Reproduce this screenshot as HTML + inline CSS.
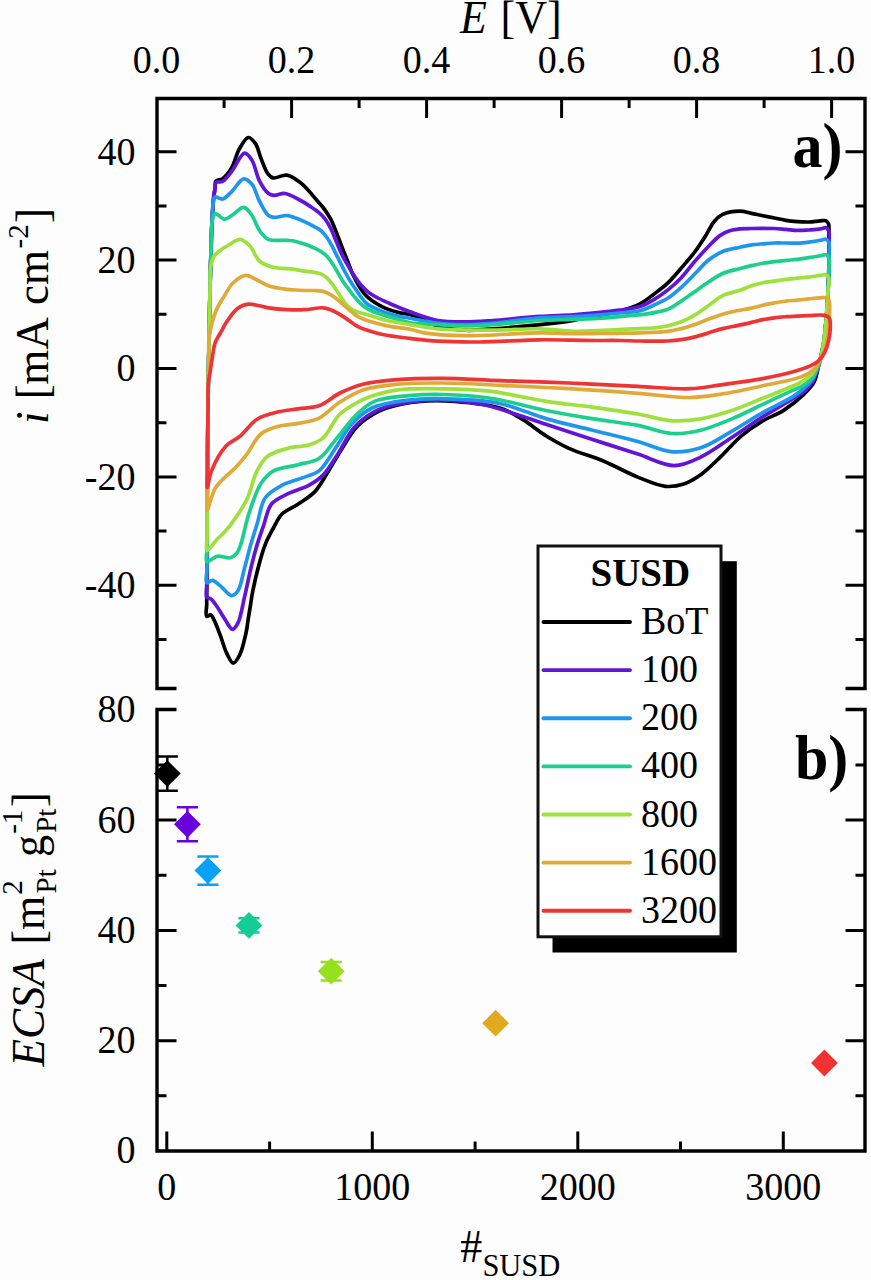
<!DOCTYPE html><html><head><meta charset="utf-8"><style>
html,body{margin:0;padding:0;background:#fdfdfd;overflow:hidden;}
svg{display:block;}
text{font-family:"Liberation Serif",serif;}
</style></head><body>
<svg width="871" height="1280" viewBox="0 0 871 1280">
<rect width="871" height="1280" fill="#fdfdfd"/>
<path d="M206.6,616.4 C205.2,615.4 206.7,608.4 206.7,604.4 C206.7,600.4 206.7,596.4 206.8,592.4 C206.8,588.4 206.8,584.4 206.8,580.4 C206.8,576.4 206.9,572.4 206.9,568.4 C206.9,564.4 206.9,560.4 206.9,556.4 C207.0,552.4 207.0,548.4 207.0,544.4 C207.0,540.4 207.0,536.4 207.0,532.4 C207.1,528.4 207.1,524.4 207.1,520.4 C207.1,516.4 207.1,512.4 207.2,508.4 C207.2,504.4 207.2,500.4 207.2,496.4 C207.2,492.4 207.3,488.4 207.3,484.4 C207.3,480.4 207.3,476.4 207.4,472.4 C207.4,468.4 207.5,464.4 207.5,460.4 C207.5,456.4 207.6,452.4 207.6,448.4 C207.7,444.4 207.7,440.4 207.7,436.4 C207.8,432.4 207.8,428.4 207.9,424.4 C207.9,420.4 207.9,416.4 208.0,412.4 C208.0,408.4 208.1,404.4 208.1,400.4 C208.1,396.4 208.2,392.4 208.2,388.4 C208.3,384.4 208.3,380.4 208.4,376.4 C208.4,372.4 208.5,368.4 208.6,364.4 C208.7,360.4 208.7,356.4 208.8,352.4 C208.9,348.4 209.0,344.4 209.1,340.4 C209.1,336.4 209.2,332.4 209.3,328.4 C209.4,324.4 209.4,320.4 209.5,316.4 C209.6,312.4 209.7,308.4 209.7,304.4 C209.8,300.4 209.9,296.4 210.0,292.4 C210.0,288.4 210.1,284.4 210.2,280.4 C210.3,276.4 210.4,272.4 210.5,268.4 C210.6,264.4 210.7,260.4 210.9,256.4 C211.0,252.4 211.1,248.4 211.2,244.4 C211.3,240.4 211.4,236.4 211.5,232.4 C211.7,228.4 211.9,224.4 212.1,220.4 C212.4,216.4 212.5,212.4 212.8,208.4 C213.1,204.4 213.4,200.0 213.8,196.4 C214.2,193.3 214.7,190.7 215.1,188.0 C215.4,185.6 214.7,182.5 216.0,181.0 C217.3,179.5 220.4,180.3 222.6,178.8 C225.7,176.7 229.1,172.2 231.7,167.8 C234.8,162.6 236.1,154.7 239.1,149.4 C241.7,144.8 245.3,137.8 248.3,137.5 C250.7,137.3 253.6,141.0 255.6,143.9 C258.1,147.6 259.1,153.7 261.1,158.6 C263.1,163.5 265.1,170.0 267.6,173.3 C269.3,175.5 270.7,177.3 273.1,177.9 C276.5,178.8 282.4,174.4 286.8,175.1 C291.4,175.8 296.3,179.6 300.0,182.3 C303.2,184.6 305.4,187.2 308.0,190.0 C310.9,193.1 313.9,196.9 316.6,200.0 C318.9,202.7 320.9,204.7 323.1,207.5 C325.6,210.8 328.4,214.8 330.6,218.8 C332.8,222.9 334.4,227.4 336.2,231.9 C338.1,236.7 340.0,242.0 341.9,246.9 C343.8,251.7 345.6,256.2 347.5,260.9 C349.4,265.6 350.7,270.1 353.1,275.0 C356.0,280.8 360.1,288.7 364.0,293.4 C366.9,297.0 369.8,299.2 373.2,301.6 C376.8,304.1 380.9,306.3 385.1,308.1 C389.4,310.0 394.5,311.5 398.9,312.6 C402.8,313.6 405.6,313.2 410.0,314.5 C417.3,316.6 428.4,323.4 437.8,326.0 C446.8,328.5 456.1,329.7 465.3,330.2 C474.5,330.7 482.5,329.5 492.9,328.8 C506.5,327.9 525.6,326.3 540.0,324.7 C552.1,323.4 563.2,322.0 573.5,320.3 C582.3,318.9 590.1,317.2 598.0,315.6 C605.4,314.1 612.4,313.2 619.4,311.2 C626.4,309.2 634.0,306.9 640.0,303.8 C645.3,301.1 649.3,297.6 653.8,294.2 C658.5,290.7 663.2,287.4 667.6,283.2 C672.4,278.7 676.8,273.2 681.3,268.0 C685.9,262.7 690.9,257.1 695.1,251.5 C699.1,246.1 702.7,240.3 706.1,235.0 C709.1,230.2 711.3,224.8 714.4,221.2 C716.9,218.2 719.2,216.0 722.7,214.3 C727.2,212.2 734.8,211.1 740.0,211.1 C744.2,211.1 747.7,212.6 751.5,213.4 C755.3,214.2 759.2,214.9 763.0,215.7 C766.8,216.5 770.6,217.2 774.4,218.0 C778.2,218.8 782.1,219.7 785.9,220.3 C789.7,220.9 793.6,221.3 797.4,221.6 C801.2,221.9 805.1,222.1 808.9,222.0 C812.7,221.9 817.2,221.0 820.4,220.8 C822.6,220.7 824.7,220.1 826.1,220.8 C827.3,221.4 828.1,222.5 828.6,224.0 C829.5,226.6 828.7,232.0 828.8,236.0 C828.9,240.0 829.0,243.8 829.0,248.0 C829.0,252.5 829.0,257.3 829.0,262.0 C829.0,266.7 828.8,271.3 828.7,276.0 C828.5,280.7 828.3,285.3 828.1,290.0 C827.9,294.7 827.6,299.3 827.3,304.0 C827.0,308.7 826.7,313.3 826.3,318.0 C825.9,322.7 825.5,327.3 825.0,332.0 C824.5,336.7 823.9,341.3 823.1,346.0 C822.3,350.7 821.0,356.3 820.1,360.0 C819.5,362.4 819.2,363.5 818.5,366.0 C817.4,370.0 816.7,377.0 814.3,381.7 C811.9,386.4 808.3,389.9 804.0,394.1 C798.5,399.5 790.4,406.0 783.3,410.6 C776.6,414.9 769.4,416.9 762.7,420.9 C755.7,425.1 748.7,429.8 742.0,435.4 C734.8,441.4 728.3,449.5 721.3,456.1 C714.5,462.6 707.5,469.9 700.7,474.7 C695.0,478.7 689.7,482.1 683.7,484.0 C677.9,485.9 672.0,487.0 665.3,486.3 C657.0,485.5 647.4,480.9 637.8,477.1 C626.8,472.7 614.9,465.8 603.3,461.0 C591.9,456.3 579.1,453.0 568.9,448.4 C560.3,444.5 553.4,440.5 545.9,435.8 C538.1,431.0 530.7,424.4 523.0,419.7 C515.7,415.3 509.7,411.2 500.7,408.3 C488.4,404.3 469.0,402.5 454.8,401.4 C442.5,400.5 431.8,400.3 420.4,401.4 C408.9,402.5 394.7,405.4 385.9,408.3 C380.1,410.3 376.6,412.1 372.0,415.0 C366.7,418.3 361.1,422.1 356.2,427.5 C350.2,434.0 344.7,444.3 339.7,452.3 C335.2,459.5 331.5,466.3 327.3,473.0 C323.2,479.4 319.9,486.4 314.9,491.6 C310.1,496.6 303.9,500.2 298.3,504.0 C292.9,507.7 286.0,510.0 281.8,514.3 C278.0,518.2 276.1,523.2 273.4,528.0 C270.6,533.1 267.7,538.3 265.4,544.1 C262.8,550.5 260.9,557.5 258.9,565.0 C256.6,573.5 254.0,584.8 252.5,592.3 C251.5,597.5 251.1,601.2 250.4,605.7 C249.7,610.2 248.9,614.6 248.2,619.1 C247.5,623.6 247.2,627.5 246.1,632.5 C244.6,639.1 242.5,649.6 239.7,655.0 C237.8,658.6 235.3,663.2 233.2,663.1 C231.0,663.0 228.7,657.3 226.8,653.4 C224.3,648.5 222.6,641.4 220.4,635.7 C218.3,630.2 215.9,623.4 213.9,619.7 C212.8,617.5 212.0,615.2 210.7,614.8 C209.5,614.4 207.5,617.0 206.6,616.4Z" fill="none" stroke="#000000" stroke-width="3.7" stroke-linejoin="round" stroke-linecap="round"/>
<path d="M206.7,597.2 C205.4,595.1 206.8,589.2 206.8,585.2 C206.8,581.2 206.8,577.2 206.9,573.2 C206.9,569.2 206.9,565.2 206.9,561.2 C206.9,557.2 206.9,553.2 207.0,549.2 C207.0,545.2 207.0,541.2 207.0,537.2 C207.0,533.2 207.1,529.2 207.1,525.2 C207.1,521.2 207.1,517.2 207.1,513.2 C207.2,509.2 207.2,505.2 207.2,501.2 C207.2,497.2 207.2,493.2 207.3,489.2 C207.3,485.2 207.3,481.2 207.3,477.2 C207.4,473.2 207.4,469.2 207.4,465.2 C207.5,461.2 207.5,457.2 207.6,453.2 C207.6,449.2 207.6,445.2 207.7,441.2 C207.7,437.2 207.8,433.2 207.8,429.2 C207.8,425.2 207.9,421.2 207.9,417.2 C208.0,413.2 208.0,409.2 208.0,405.2 C208.1,401.2 208.1,397.2 208.2,393.2 C208.2,389.2 208.2,385.2 208.3,381.2 C208.3,377.2 208.4,373.2 208.5,369.2 C208.6,365.2 208.7,361.2 208.7,357.2 C208.8,353.2 208.9,349.2 209.0,345.2 C209.0,341.2 209.1,337.2 209.2,333.2 C209.3,329.2 209.3,325.2 209.4,321.2 C209.5,317.2 209.6,313.2 209.6,309.2 C209.7,305.2 209.8,301.2 209.9,297.2 C209.9,293.2 210.0,289.2 210.1,285.2 C210.2,281.2 210.3,277.2 210.4,273.2 C210.5,269.2 210.6,265.2 210.7,261.2 C210.8,257.2 211.0,253.2 211.1,249.2 C211.2,245.2 211.3,241.2 211.4,237.2 C211.5,233.2 211.7,229.2 211.9,225.2 C212.1,221.2 212.3,217.2 212.6,213.2 C212.8,209.2 212.8,205.1 213.2,201.2 C213.6,197.4 214.3,193.4 214.8,190.0 C215.2,187.2 214.7,183.9 216.1,182.5 C217.4,181.2 220.5,182.7 222.6,181.5 C225.7,179.8 228.5,175.4 231.7,171.4 C235.8,166.3 240.7,153.4 244.6,153.1 C247.3,152.9 249.9,157.0 252.0,160.4 C255.1,165.2 256.3,174.8 259.3,180.6 C261.9,185.6 265.5,191.3 268.5,193.5 C270.3,194.9 271.8,195.1 274.0,195.3 C277.0,195.5 281.1,193.0 285.0,193.5 C289.6,194.1 295.4,197.8 299.7,200.0 C303.2,201.8 306.0,203.6 309.1,205.6 C312.2,207.7 315.7,209.9 318.4,212.2 C320.9,214.3 323.0,216.3 325.0,218.8 C327.1,221.5 328.8,224.7 330.6,228.1 C332.6,232.0 334.3,236.8 336.2,241.2 C338.1,245.6 339.9,250.3 341.9,254.4 C343.7,258.1 345.6,261.4 347.5,264.7 C349.3,267.9 351.0,271.0 353.1,274.1 C355.3,277.5 357.7,281.1 360.3,284.2 C362.9,287.2 365.6,290.1 368.6,292.4 C371.5,294.6 374.5,296.2 377.8,298.0 C381.5,300.0 385.2,301.5 389.7,303.5 C395.5,306.0 402.6,309.1 410.0,311.7 C418.5,314.8 428.4,318.8 437.8,320.5 C446.9,322.1 456.1,321.9 465.3,321.9 C474.5,321.9 482.5,321.2 492.9,320.5 C506.5,319.6 525.6,317.4 540.0,316.4 C552.1,315.6 563.2,315.5 573.5,314.8 C582.3,314.2 590.1,313.4 598.0,312.6 C605.4,311.9 612.3,311.2 619.4,310.2 C626.3,309.2 633.9,308.6 640.0,306.6 C645.2,304.9 649.3,302.4 653.8,299.7 C658.5,296.9 663.1,293.7 667.6,290.1 C672.3,286.4 676.9,282.3 681.3,277.7 C686.1,272.7 690.4,266.4 695.1,261.1 C699.6,255.9 704.5,250.5 708.9,246.0 C712.7,242.1 716.1,238.2 719.9,235.6 C723.1,233.4 726.2,231.9 729.6,230.8 C732.9,229.7 736.4,229.3 740.0,228.9 C743.7,228.5 747.7,228.6 751.5,228.5 C755.3,228.4 759.2,228.3 763.0,228.3 C766.8,228.3 770.6,228.3 774.4,228.5 C778.2,228.7 782.1,229.1 785.9,229.4 C789.7,229.7 793.6,230.3 797.4,230.4 C801.2,230.5 805.1,230.2 808.9,230.0 C812.7,229.7 817.2,229.4 820.4,228.9 C822.6,228.6 824.7,227.2 826.1,227.7 C827.3,228.1 828.2,229.4 828.8,231.0 C829.9,233.9 829.0,240.3 829.0,245.0 C829.0,249.7 829.0,254.3 829.0,259.0 C829.0,263.7 828.8,268.3 828.7,273.0 C828.6,277.7 828.4,282.3 828.2,287.0 C828.0,291.7 827.8,296.3 827.5,301.0 C827.2,305.7 827.0,310.3 826.6,315.0 C826.2,319.7 825.8,324.3 825.3,329.0 C824.8,333.7 824.4,338.3 823.7,343.0 C823.0,347.7 821.9,353.2 821.0,357.0 C820.3,359.8 819.9,361.2 819.0,364.0 C817.6,368.4 815.8,376.2 813.0,381.0 C810.6,385.2 807.3,388.6 804.0,391.5 C800.9,394.3 798.1,395.5 793.7,398.2 C786.2,402.9 773.0,410.3 762.7,416.8 C752.3,423.4 742.1,430.8 731.7,437.5 C721.4,444.2 710.9,452.3 700.7,457.1 C691.9,461.2 684.0,465.6 674.5,465.6 C663.3,465.7 650.7,458.2 637.8,454.1 C623.3,449.5 607.1,444.2 591.8,439.2 C576.5,434.2 560.0,429.0 545.9,424.3 C533.8,420.3 523.4,416.3 512.2,412.9 C501.4,409.6 491.2,406.1 480.0,404.0 C468.2,401.7 453.9,400.3 443.0,400.0 C434.4,399.7 428.4,400.1 420.0,401.0 C409.7,402.1 394.6,404.4 385.9,407.0 C380.1,408.7 376.7,410.1 372.0,413.0 C366.2,416.5 359.5,421.4 354.1,427.5 C347.8,434.7 343.0,446.1 337.6,454.4 C332.7,461.8 328.4,469.7 323.1,475.1 C318.6,479.6 314.1,482.4 308.7,485.4 C302.6,488.7 294.4,490.5 288.0,493.7 C282.0,496.7 275.5,499.1 271.5,504.0 C267.2,509.2 266.2,518.0 263.8,524.8 C261.5,531.3 259.4,537.3 257.3,544.1 C255.0,551.7 252.9,559.8 250.9,568.2 C248.7,577.4 246.7,587.8 244.5,597.2 C242.4,606.0 240.9,617.4 238.0,622.9 C236.4,626.0 234.3,629.4 232.4,629.3 C230.1,629.2 227.6,623.2 225.2,619.7 C222.5,615.8 219.7,610.5 217.1,606.8 C214.9,603.7 212.8,600.3 210.7,598.8 C209.4,597.8 207.6,598.4 206.7,597.2Z" fill="none" stroke="#6414d8" stroke-width="3.7" stroke-linejoin="round" stroke-linecap="round"/>
<path d="M206.8,582.7 C205.3,581.7 206.8,574.7 206.9,570.7 C206.9,566.7 206.9,562.7 206.9,558.7 C206.9,554.7 207.0,550.7 207.0,546.7 C207.0,542.7 207.0,538.7 207.0,534.7 C207.1,530.7 207.1,526.7 207.1,522.7 C207.1,518.7 207.1,514.7 207.2,510.7 C207.2,506.7 207.2,502.7 207.2,498.7 C207.2,494.7 207.2,490.7 207.3,486.7 C207.3,482.7 207.3,478.7 207.4,474.7 C207.4,470.7 207.4,466.7 207.5,462.7 C207.5,458.7 207.6,454.7 207.6,450.7 C207.6,446.7 207.7,442.7 207.7,438.7 C207.8,434.7 207.8,430.7 207.8,426.7 C207.9,422.7 207.9,418.7 208.0,414.7 C208.0,410.7 208.0,406.7 208.1,402.7 C208.1,398.7 208.2,394.7 208.2,390.7 C208.2,386.7 208.3,382.7 208.3,378.7 C208.4,374.7 208.5,370.7 208.6,366.7 C208.6,362.7 208.7,358.7 208.8,354.7 C208.9,350.7 208.9,346.7 209.0,342.7 C209.1,338.7 209.2,334.7 209.2,330.7 C209.3,326.7 209.4,322.7 209.5,318.7 C209.5,314.7 209.6,310.7 209.7,306.7 C209.8,302.7 209.8,298.7 209.9,294.7 C210.0,290.7 210.1,286.7 210.1,282.7 C210.2,278.7 210.4,274.7 210.5,270.7 C210.6,266.7 210.7,262.7 210.8,258.7 C210.9,254.7 211.0,250.7 211.1,246.7 C211.2,242.7 211.3,238.7 211.5,234.7 C211.6,230.7 211.8,227.1 212.0,222.7 C212.3,217.4 212.3,209.7 213.0,205.0 C213.5,201.8 213.3,198.0 214.9,197.0 C216.5,196.0 220.1,199.6 222.6,199.0 C225.7,198.3 228.6,194.5 231.7,191.6 C235.5,188.0 239.9,179.2 243.7,178.8 C246.6,178.5 249.6,181.5 252.0,184.3 C255.2,188.1 256.5,195.6 259.3,200.8 C262.0,205.9 265.4,213.0 268.5,215.5 C270.3,216.9 271.8,217.2 274.0,217.4 C277.3,217.7 283.0,215.3 286.8,215.5 C289.9,215.7 292.2,216.8 295.0,217.8 C298.1,218.8 301.3,220.2 304.4,221.6 C307.5,223.0 310.8,224.7 313.7,226.3 C316.4,227.8 319.0,229.0 321.2,230.9 C323.4,232.8 325.1,235.0 326.9,237.5 C328.9,240.3 330.7,243.6 332.5,246.9 C334.4,250.4 336.2,254.4 338.1,258.1 C340.0,261.9 341.8,265.7 343.7,269.4 C345.6,272.9 347.4,276.5 349.4,279.7 C351.2,282.7 352.7,284.9 355.0,288.1 C358.1,292.5 362.3,299.8 366.7,303.5 C370.4,306.6 374.4,308.0 378.7,309.9 C383.5,312.0 389.0,314.0 394.3,315.4 C399.5,316.8 404.0,317.1 410.0,318.2 C418.0,319.6 428.5,322.2 437.8,323.3 C447.0,324.4 456.1,324.7 465.3,324.7 C474.5,324.7 482.5,324.2 492.9,323.3 C506.5,322.2 525.6,318.9 540.0,317.8 C552.1,316.9 563.2,317.1 573.5,316.6 C582.3,316.2 590.1,315.6 598.0,315.0 C605.4,314.4 612.3,313.7 619.4,313.0 C626.3,312.3 633.9,312.2 640.0,310.7 C645.2,309.4 649.2,307.2 653.8,305.2 C658.4,303.1 663.2,301.1 667.6,298.3 C672.3,295.3 676.8,291.3 681.3,287.3 C686.0,283.1 690.5,278.1 695.1,273.5 C699.7,268.9 704.1,263.6 708.9,259.8 C713.3,256.4 717.7,253.6 722.7,251.5 C728.0,249.3 734.8,248.4 740.0,247.2 C744.2,246.3 747.7,245.5 751.5,244.9 C755.3,244.3 759.2,244.1 763.0,243.8 C766.8,243.5 770.6,243.1 774.4,243.0 C778.2,242.9 782.1,243.0 785.9,243.0 C789.7,243.0 793.6,243.3 797.4,243.2 C801.2,243.1 805.1,242.6 808.9,242.1 C812.7,241.6 817.2,240.9 820.4,240.3 C822.6,239.9 824.6,238.7 826.1,239.2 C827.4,239.6 828.3,240.9 828.9,242.5 C830.0,245.4 829.0,251.5 829.0,256.0 C829.0,260.6 828.9,265.3 828.8,270.0 C828.7,274.7 828.6,279.3 828.4,284.0 C828.2,288.7 828.0,293.3 827.7,298.0 C827.4,302.7 827.1,307.3 826.8,312.0 C826.4,316.7 826.0,321.3 825.6,326.0 C825.2,330.7 824.8,335.3 824.2,340.0 C823.5,344.7 822.6,350.0 821.7,354.0 C821.0,357.1 820.7,358.9 819.6,362.0 C818.0,366.8 815.4,374.8 812.3,379.5 C809.7,383.4 806.2,386.2 803.0,389.0 C800.0,391.7 797.8,393.4 793.7,396.1 C786.5,400.7 773.0,406.9 762.7,412.7 C752.3,418.6 742.1,425.4 731.7,431.3 C721.4,437.1 711.1,444.4 700.7,447.8 C691.3,450.9 682.1,452.5 672.2,451.8 C661.2,451.0 650.1,444.9 637.8,441.5 C623.6,437.6 607.1,433.8 591.8,430.0 C576.5,426.2 561.1,423.0 545.9,418.6 C530.7,414.2 516.0,406.9 500.7,403.7 C485.6,400.5 469.0,399.8 454.8,399.1 C442.5,398.5 431.8,398.3 420.4,399.1 C408.9,399.9 394.8,401.8 385.9,403.7 C380.2,405.0 376.8,405.5 372.0,408.0 C365.7,411.3 358.0,417.1 352.1,423.4 C345.7,430.3 341.1,440.2 335.5,448.2 C330.1,456.0 325.0,466.1 319.0,470.9 C314.5,474.5 309.9,475.0 304.5,477.1 C297.8,479.8 288.5,481.7 281.8,485.4 C275.6,488.8 269.3,492.1 265.3,497.8 C260.7,504.3 259.8,515.1 257.3,523.2 C255.0,530.5 253.0,536.9 250.9,544.1 C248.7,551.8 246.7,560.3 244.5,568.2 C242.4,575.8 241.1,586.2 238.0,590.7 C236.2,593.4 234.0,595.7 231.6,595.6 C228.4,595.5 223.9,588.6 220.4,585.9 C217.5,583.7 214.8,580.5 212.3,580.3 C210.3,580.1 207.9,583.4 206.8,582.7Z" fill="none" stroke="#1e96ee" stroke-width="3.7" stroke-linejoin="round" stroke-linecap="round"/>
<path d="M206.9,561.8 C205.2,560.8 206.9,553.8 207.0,549.8 C207.0,545.8 207.0,541.8 207.0,537.8 C207.0,533.8 207.1,529.8 207.1,525.8 C207.1,521.8 207.1,517.8 207.1,513.8 C207.2,509.8 207.2,505.8 207.2,501.8 C207.2,497.8 207.2,493.8 207.3,489.8 C207.3,485.8 207.3,481.8 207.3,477.8 C207.4,473.8 207.4,469.8 207.4,465.8 C207.5,461.8 207.5,457.8 207.6,453.8 C207.6,449.8 207.6,445.8 207.7,441.8 C207.7,437.8 207.8,433.8 207.8,429.8 C207.8,425.8 207.9,421.8 207.9,417.8 C208.0,413.8 208.0,409.8 208.0,405.8 C208.1,401.8 208.1,397.8 208.2,393.8 C208.2,389.8 208.2,385.8 208.3,381.8 C208.3,377.8 208.4,373.8 208.5,369.8 C208.6,365.8 208.6,361.8 208.7,357.8 C208.8,353.8 208.9,349.8 208.9,345.8 C209.0,341.8 209.1,337.8 209.2,333.8 C209.3,329.8 209.3,325.8 209.4,321.8 C209.5,317.8 209.6,313.8 209.6,309.8 C209.7,305.8 209.8,301.8 209.9,297.8 C209.9,293.8 210.0,289.8 210.1,285.8 C210.2,281.8 210.3,277.8 210.4,273.8 C210.5,269.8 210.6,265.8 210.7,261.8 C210.8,257.8 210.9,253.8 211.0,249.8 C211.2,245.8 211.2,242.1 211.4,237.8 C211.6,232.9 211.2,226.4 212.1,222.0 C212.7,218.7 213.3,214.4 215.2,213.7 C217.3,213.0 221.5,219.1 224.4,219.2 C226.9,219.3 229.0,217.1 231.7,215.5 C235.3,213.4 240.2,207.0 243.7,207.3 C246.9,207.6 249.6,212.1 252.0,215.5 C254.9,219.5 256.3,226.1 259.3,230.2 C261.9,233.9 264.5,237.6 268.5,239.4 C273.3,241.5 281.9,239.9 286.8,240.3 C290.1,240.6 292.2,240.6 295.0,241.2 C298.1,241.8 301.3,243.0 304.4,244.1 C307.5,245.2 310.8,246.5 313.7,247.8 C316.4,249.0 318.9,250.1 321.2,251.6 C323.3,253.0 325.1,254.3 326.9,256.2 C328.9,258.3 330.7,261.0 332.5,263.7 C334.4,266.6 336.2,270.0 338.1,273.1 C340.0,276.2 341.7,279.6 343.7,282.5 C345.5,285.2 347.5,287.5 349.4,290.0 C351.3,292.5 352.7,294.9 355.0,297.5 C357.7,300.6 361.1,304.5 364.9,307.1 C368.9,309.9 373.9,311.8 378.7,313.6 C383.7,315.5 389.1,316.7 394.3,318.2 C399.5,319.7 404.0,321.6 410.0,322.7 C417.9,324.1 428.6,324.1 437.8,324.7 C447.0,325.2 456.1,326.0 465.3,326.0 C474.5,326.0 482.5,325.4 492.9,324.7 C506.5,323.8 525.6,321.4 540.0,320.5 C552.1,319.8 563.2,319.8 573.5,319.4 C582.3,319.1 590.1,318.8 598.0,318.3 C605.4,317.8 611.8,317.3 619.4,316.6 C628.0,315.8 639.9,314.9 647.0,313.9 C651.5,313.3 654.5,312.7 658.0,311.9 C661.3,311.2 664.2,310.8 667.6,309.4 C671.9,307.6 676.8,304.1 681.3,301.1 C685.9,298.1 690.5,294.6 695.1,291.4 C699.7,288.2 704.2,284.8 708.9,281.8 C713.5,278.9 717.7,275.7 722.7,273.5 C728.0,271.2 734.8,269.9 740.0,268.5 C744.2,267.4 747.7,266.5 751.5,265.6 C755.3,264.7 759.2,264.0 763.0,263.3 C766.8,262.6 770.6,262.1 774.4,261.6 C778.2,261.1 782.1,260.8 785.9,260.4 C789.7,260.0 793.6,259.8 797.4,259.3 C801.2,258.8 805.1,258.2 808.9,257.6 C812.7,257.0 817.2,256.4 820.4,255.8 C822.6,255.4 824.6,254.2 826.1,254.7 C827.4,255.1 828.3,256.4 828.9,258.0 C830.0,260.9 828.9,267.3 828.8,272.0 C828.7,276.7 828.5,281.3 828.3,286.0 C828.1,290.7 827.9,295.3 827.6,300.0 C827.3,304.7 827.0,309.3 826.6,314.0 C826.2,318.7 825.9,323.3 825.4,328.0 C824.9,332.7 824.6,337.1 823.8,342.0 C822.9,347.6 822.0,354.1 820.1,360.0 C818.2,366.0 815.6,373.1 812.3,377.5 C809.7,381.1 806.2,383.4 803.0,385.5 C800.0,387.4 797.7,388.0 793.7,389.9 C786.4,393.3 773.0,399.6 762.7,404.4 C752.4,409.2 742.1,414.6 731.7,418.9 C721.5,423.2 711.0,427.8 700.7,430.2 C691.1,432.5 682.1,434.1 672.2,433.5 C661.2,432.9 650.2,427.8 637.8,425.4 C623.6,422.7 607.1,421.1 591.8,418.6 C576.5,416.1 562.0,413.7 545.9,410.5 C528.0,406.9 507.3,400.7 489.3,398.0 C473.3,395.6 457.5,394.8 443.3,394.5 C431.0,394.2 420.3,394.6 408.9,395.7 C397.4,396.8 383.7,397.4 374.4,401.4 C366.9,404.6 362.1,409.4 356.2,415.1 C349.1,421.8 342.1,432.3 335.5,439.9 C329.7,446.6 325.5,454.4 319.0,458.5 C313.0,462.4 305.5,462.7 298.3,464.7 C290.4,466.9 280.0,467.2 273.5,470.9 C268.1,473.9 264.8,477.8 261.1,483.3 C256.1,490.9 252.2,503.9 248.7,514.3 C245.3,524.5 243.1,538.3 240.5,545.3 C239.1,549.1 238.3,551.7 236.4,553.8 C234.7,555.7 232.6,557.2 230.0,557.8 C226.6,558.6 221.0,555.4 217.1,556.2 C213.4,556.9 208.6,562.8 206.9,561.8Z" fill="none" stroke="#1ccf8c" stroke-width="3.7" stroke-linejoin="round" stroke-linecap="round"/>
<path d="M207.0,550.5 C205.6,550.0 207.0,542.5 207.0,538.5 C207.0,534.5 207.1,530.5 207.1,526.5 C207.1,522.5 207.1,518.5 207.1,514.5 C207.2,510.5 207.2,506.5 207.2,502.5 C207.2,498.5 207.2,494.5 207.2,490.5 C207.3,486.5 207.3,482.5 207.3,478.5 C207.3,474.5 207.4,470.5 207.4,466.5 C207.5,462.5 207.5,458.5 207.6,454.5 C207.6,450.5 207.6,446.5 207.7,442.5 C207.7,438.5 207.8,434.5 207.8,430.5 C207.8,426.5 207.9,422.5 207.9,418.5 C208.0,414.5 208.0,410.5 208.0,406.5 C208.1,402.5 208.1,398.5 208.2,394.5 C208.2,390.5 208.2,386.5 208.3,382.5 C208.3,378.5 208.4,374.5 208.5,370.5 C208.6,366.5 208.6,362.5 208.7,358.5 C208.8,354.5 208.9,350.5 208.9,346.5 C209.0,342.5 209.1,338.5 209.2,334.5 C209.2,330.5 209.3,326.5 209.4,322.5 C209.5,318.5 209.5,314.5 209.6,310.5 C209.7,306.5 209.8,302.5 209.8,298.5 C209.9,294.5 210.0,290.9 210.1,286.5 C210.2,281.0 209.7,273.4 210.5,268.0 C211.2,263.6 212.3,259.3 214.1,256.3 C215.5,254.0 217.1,252.8 219.2,251.1 C221.9,248.9 226.0,246.5 229.5,244.5 C232.9,242.6 236.6,239.2 240.0,239.4 C243.5,239.6 247.1,243.1 250.1,246.2 C253.7,249.9 255.4,257.5 259.3,261.0 C262.9,264.2 267.1,265.6 272.1,267.0 C278.5,268.8 289.1,268.5 295.0,269.4 C298.8,270.0 301.3,270.7 304.4,271.2 C307.5,271.7 310.8,271.7 313.7,272.2 C316.4,272.7 318.9,273.1 321.2,274.1 C323.3,275.0 325.1,276.2 326.9,277.8 C328.9,279.6 330.7,282.0 332.5,284.4 C334.4,287.0 336.2,290.0 338.1,292.8 C340.0,295.6 341.7,298.6 343.7,301.2 C345.5,303.6 347.1,306.0 349.4,307.8 C351.7,309.6 354.7,310.9 357.5,312.0 C360.4,313.1 363.1,313.5 366.7,314.5 C371.8,316.0 378.5,318.4 385.1,320.0 C392.7,321.8 401.5,323.2 410.0,324.6 C419.0,326.1 426.9,327.8 437.8,328.8 C453.0,330.1 475.3,330.2 492.9,330.2 C509.2,330.2 525.6,328.5 540.0,328.8 C552.1,329.1 563.2,331.1 573.5,331.3 C582.3,331.5 590.1,330.9 598.0,330.6 C605.4,330.3 612.3,329.8 619.4,329.5 C626.3,329.2 633.8,328.9 640.0,328.6 C645.1,328.4 649.2,328.4 653.8,328.0 C658.4,327.6 663.0,326.9 667.6,325.9 C672.2,324.9 676.8,323.6 681.3,321.8 C686.0,319.9 690.6,317.6 695.1,314.9 C699.8,312.1 704.3,308.4 708.9,305.2 C713.5,302.0 717.6,298.1 722.7,295.6 C728.0,293.0 734.9,292.1 740.0,290.3 C744.3,288.8 747.6,287.0 751.5,285.7 C755.3,284.5 759.2,283.6 763.0,282.8 C766.8,282.0 770.6,281.7 774.4,281.1 C778.2,280.5 782.1,279.9 785.9,279.4 C789.7,278.9 793.6,278.6 797.4,278.2 C801.2,277.8 805.1,277.6 808.9,277.1 C812.7,276.6 817.2,275.8 820.4,275.4 C822.6,275.1 824.7,274.2 826.1,274.8 C827.3,275.3 828.2,276.4 828.7,278.0 C829.7,280.9 828.2,287.3 828.0,292.0 C827.7,296.7 827.5,301.3 827.2,306.0 C826.9,310.7 826.6,315.3 826.2,320.0 C825.8,324.7 825.4,329.3 824.8,334.0 C824.2,338.7 823.5,344.0 822.8,348.0 C822.3,351.0 822.3,352.9 821.2,356.0 C819.5,360.8 815.8,369.1 812.3,373.5 C809.5,376.9 806.2,378.9 803.0,381.0 C800.0,383.0 797.8,383.9 793.7,385.8 C786.4,389.1 773.0,394.1 762.7,398.2 C752.4,402.3 742.1,407.1 731.7,410.6 C721.5,414.0 710.9,417.2 700.7,418.9 C691.1,420.5 682.1,421.4 672.2,420.8 C661.2,420.1 650.1,416.1 637.8,414.0 C623.6,411.5 607.1,409.2 591.8,407.1 C576.5,405.0 562.0,403.8 545.9,401.3 C528.0,398.6 507.3,393.2 489.3,391.1 C473.2,389.3 458.6,389.0 443.3,388.8 C428.0,388.6 409.9,388.3 397.4,389.9 C388.5,391.0 381.6,392.9 375.0,395.0 C369.4,396.7 365.2,398.3 360.0,401.0 C353.7,404.3 345.9,408.3 340.0,414.0 C333.4,420.3 329.2,432.6 323.1,437.9 C318.6,441.8 314.1,443.4 308.7,445.1 C302.6,447.0 294.8,446.4 288.0,448.2 C281.0,450.1 272.6,452.3 267.3,456.5 C262.6,460.2 260.1,465.0 257.0,470.9 C252.9,478.7 251.0,491.0 246.7,499.9 C242.7,508.2 236.3,516.9 232.2,522.6 C229.6,526.3 227.7,528.5 225.2,531.3 C222.7,534.1 219.9,536.4 217.1,539.3 C213.9,542.7 208.5,551.1 207.0,550.5Z" fill="none" stroke="#9ee03c" stroke-width="3.7" stroke-linejoin="round" stroke-linecap="round"/>
<path d="M207.2,510.2 C206.3,510.0 207.2,502.2 207.2,498.2 C207.2,494.2 207.2,490.2 207.3,486.2 C207.3,482.2 207.3,478.2 207.4,474.2 C207.4,470.2 207.4,466.2 207.5,462.2 C207.5,458.2 207.6,454.2 207.6,450.2 C207.6,446.2 207.7,442.2 207.7,438.2 C207.8,434.2 207.8,430.2 207.8,426.2 C207.9,422.2 207.9,418.2 208.0,414.2 C208.0,410.2 208.0,406.2 208.1,402.2 C208.1,398.2 208.2,394.2 208.2,390.2 C208.2,386.2 208.3,382.2 208.3,378.2 C208.4,374.2 208.5,370.2 208.6,366.2 C208.6,362.2 208.7,358.5 208.8,354.2 C208.9,349.2 208.3,344.0 209.1,338.0 C210.1,330.2 212.8,318.8 215.8,311.3 C218.2,305.3 221.4,300.7 224.4,295.8 C227.2,291.3 229.4,286.4 233.0,283.0 C236.5,279.7 241.3,275.7 245.5,275.4 C249.5,275.1 253.6,278.5 257.5,280.2 C261.3,281.9 264.3,284.2 268.5,285.7 C273.7,287.5 281.9,288.7 286.8,289.4 C290.1,289.8 292.2,289.8 295.0,290.0 C298.0,290.2 301.3,290.4 304.4,290.5 C307.5,290.6 310.6,290.4 313.7,290.5 C316.8,290.6 320.2,290.6 323.1,291.4 C325.8,292.1 328.2,293.4 330.6,294.7 C332.9,296.0 335.0,297.7 337.2,299.4 C339.4,301.1 341.5,303.1 343.7,305.0 C346.1,307.1 348.8,309.6 351.2,311.6 C353.4,313.3 354.9,314.8 357.5,316.3 C361.1,318.3 366.3,320.2 371.3,321.8 C376.9,323.6 383.4,325.2 389.7,326.4 C396.3,327.7 403.9,328.0 410.0,329.2 C415.1,330.2 418.0,331.9 424.0,332.9 C434.1,334.6 449.5,335.5 465.3,335.7 C486.5,336.0 520.0,333.0 540.0,332.9 C553.4,332.8 563.2,333.6 573.5,333.7 C582.3,333.8 590.1,333.6 598.0,333.5 C605.4,333.4 612.3,333.3 619.4,333.2 C626.3,333.1 632.6,333.1 640.0,332.8 C648.5,332.5 660.0,332.4 667.6,331.4 C673.0,330.7 676.7,329.7 681.3,328.6 C685.9,327.4 690.5,326.1 695.1,324.5 C699.7,322.9 704.3,320.7 708.9,319.0 C713.5,317.3 718.0,315.6 722.7,314.2 C727.4,312.8 732.2,311.8 737.0,310.8 C741.8,309.8 747.0,309.1 751.5,308.1 C755.6,307.2 759.2,306.1 763.0,305.2 C766.8,304.3 770.6,303.6 774.4,302.9 C778.2,302.2 782.1,301.7 785.9,301.2 C789.7,300.7 793.6,300.5 797.4,300.1 C801.2,299.7 805.1,299.3 808.9,298.9 C812.7,298.5 817.2,298.0 820.4,297.8 C822.6,297.7 824.6,297.2 826.1,297.8 C827.4,298.3 828.3,299.1 829.0,300.6 C830.3,303.5 829.6,311.4 829.5,316.0 C829.4,319.7 829.0,322.7 828.7,326.1 C828.4,329.5 828.5,332.6 827.9,336.2 C827.2,340.4 826.1,345.6 824.7,349.8 C823.4,353.6 821.6,357.0 819.8,360.3 C818.1,363.4 816.8,366.6 814.2,369.1 C811.2,372.1 807.6,374.2 802.2,376.4 C793.0,380.2 776.0,382.9 762.7,385.8 C749.1,388.8 734.2,392.1 721.3,394.1 C710.2,395.8 701.8,397.3 690.0,397.5 C674.8,397.7 656.4,394.7 637.8,393.3 C616.4,391.7 591.9,390.0 568.9,388.7 C545.9,387.4 521.9,386.3 500.0,385.3 C480.2,384.4 461.2,383.1 443.3,383.0 C427.2,382.9 411.6,382.8 397.4,384.2 C385.1,385.4 373.1,386.5 363.0,389.9 C354.3,392.8 347.3,397.3 340.0,402.0 C332.6,406.7 326.4,414.6 319.0,418.2 C312.4,421.4 305.2,422.0 298.3,423.4 C291.5,424.8 284.1,424.7 277.7,426.5 C271.7,428.2 266.0,429.7 261.1,433.7 C255.4,438.4 251.2,448.5 246.7,454.4 C243.1,459.2 240.5,462.2 236.3,466.8 C230.7,472.9 220.6,479.9 215.7,487.5 C211.2,494.5 208.3,510.4 207.2,510.2Z" fill="none" stroke="#e0aa38" stroke-width="3.7" stroke-linejoin="round" stroke-linecap="round"/>
<path d="M207.3,487.5 C206.7,487.4 207.3,479.5 207.3,475.5 C207.4,471.5 207.4,467.5 207.5,463.5 C207.5,459.5 207.5,455.5 207.6,451.5 C207.6,447.5 207.7,443.5 207.7,439.5 C207.7,435.5 207.8,431.5 207.8,427.5 C207.9,423.5 207.9,419.5 207.9,415.5 C208.0,411.5 208.0,408.0 208.1,403.5 C208.1,397.8 207.8,389.8 208.3,384.0 C208.7,379.2 209.6,375.2 210.3,370.9 C211.0,366.5 211.5,362.2 212.3,357.7 C213.1,352.9 213.6,347.2 215.2,342.7 C216.6,338.7 219.1,335.4 221.0,331.9 C222.8,328.7 224.0,325.8 226.2,322.5 C229.1,318.2 233.1,311.8 237.2,308.7 C240.6,306.2 244.1,304.6 248.4,304.2 C254.1,303.6 261.9,306.9 268.5,307.8 C274.7,308.7 280.8,309.3 286.8,309.6 C292.7,309.9 298.5,310.0 304.4,309.7 C310.5,309.4 318.3,307.4 323.1,307.8 C326.2,308.0 328.1,308.8 330.6,309.7 C333.2,310.6 335.6,312.0 338.1,313.4 C340.6,314.8 342.8,316.3 345.6,318.1 C349.1,320.4 353.7,324.4 357.5,326.4 C360.7,328.1 363.2,328.8 366.7,330.0 C371.3,331.5 376.6,333.2 382.7,334.5 C390.5,336.2 400.8,337.3 410.0,338.4 C419.2,339.5 427.6,340.6 437.8,341.2 C450.2,341.9 464.0,342.1 479.1,342.0 C497.4,341.8 522.7,340.0 540.0,339.8 C552.8,339.6 563.2,340.1 573.5,340.2 C582.3,340.3 590.1,340.5 598.0,340.5 C605.4,340.5 612.3,340.4 619.4,340.5 C626.3,340.6 632.6,340.9 640.0,341.0 C648.5,341.1 660.0,341.4 667.6,341.0 C673.0,340.7 676.7,340.4 681.3,339.7 C685.9,339.0 690.5,338.0 695.1,336.9 C699.7,335.7 704.3,334.2 708.9,332.8 C713.5,331.4 718.0,329.8 722.7,328.6 C727.4,327.4 732.2,326.6 737.0,325.6 C741.8,324.6 747.0,323.5 751.5,322.4 C755.6,321.5 759.2,320.4 763.0,319.6 C766.8,318.8 770.6,318.3 774.4,317.8 C778.2,317.3 782.1,317.0 785.9,316.7 C789.7,316.4 793.6,316.3 797.4,316.1 C801.2,315.9 805.1,315.8 808.9,315.6 C812.7,315.4 817.2,314.9 820.4,315.0 C822.7,315.1 824.7,315.0 826.3,315.7 C827.6,316.3 828.8,317.1 829.5,318.5 C830.6,320.6 830.4,324.7 830.3,328.1 C830.2,331.9 829.6,336.2 828.7,340.2 C827.8,344.3 826.6,348.7 824.7,352.3 C823.0,355.6 820.7,358.8 818.2,361.1 C815.9,363.2 813.4,364.4 810.2,365.9 C805.8,367.9 800.4,369.7 794.1,371.5 C785.4,374.0 773.9,376.5 762.7,378.6 C749.9,381.0 734.1,383.0 721.3,384.8 C710.1,386.3 701.8,388.2 690.0,388.7 C674.8,389.3 656.4,387.3 637.8,386.4 C616.4,385.4 591.9,384.0 568.9,383.0 C545.9,382.1 521.8,381.5 500.0,380.7 C480.2,380.0 461.2,378.5 443.3,378.4 C427.2,378.3 411.6,378.5 397.4,379.6 C385.1,380.6 373.2,381.6 363.0,384.2 C354.4,386.4 347.3,389.4 340.0,393.0 C332.7,396.6 326.2,403.2 319.0,405.8 C312.3,408.2 305.2,407.9 298.3,408.9 C291.4,409.9 284.5,410.3 277.7,412.0 C270.7,413.7 263.1,415.4 257.0,419.3 C250.7,423.3 246.0,431.1 240.5,435.8 C235.7,439.9 230.4,441.3 226.0,446.1 C220.4,452.2 214.6,463.3 211.5,470.9 C209.1,476.8 207.9,487.6 207.3,487.5Z" fill="none" stroke="#ee3434" stroke-width="3.7" stroke-linejoin="round" stroke-linecap="round"/>
<path d="M176.5,688.5 L157.0,688.5 L157.0,98.5 L865.0,98.5 L865.0,688.5 L845.5,688.5 M176.5,709.5 L157.0,709.5 L157.0,1151.0 L865.0,1151.0 L865.0,709.5 L845.5,709.5" fill="none" stroke="#000" stroke-width="3.4" stroke-linejoin="miter"/>
<path d="M224.1,98.5 V108.0 M291.6,98.5 V118.0 M359.1,98.5 V108.0 M426.6,98.5 V118.0 M494.1,98.5 V108.0 M561.6,98.5 V118.0 M629.1,98.5 V108.0 M696.6,98.5 V118.0 M764.1,98.5 V108.0 M831.6,98.5 V118.0 M157.0,639.5 H166.5 M865.0,639.5 H855.5 M157.0,585.3 H176.5 M865.0,585.3 H845.5 M157.0,531.1 H166.5 M865.0,531.1 H855.5 M157.0,476.9 H176.5 M865.0,476.9 H845.5 M157.0,422.7 H166.5 M865.0,422.7 H855.5 M157.0,368.5 H176.5 M865.0,368.5 H845.5 M157.0,314.3 H166.5 M865.0,314.3 H855.5 M157.0,260.1 H176.5 M865.0,260.1 H845.5 M157.0,205.9 H166.5 M865.0,205.9 H855.5 M157.0,151.7 H176.5 M865.0,151.7 H845.5 M157.0,1095.8 H166.5 M865.0,1095.8 H855.5 M157.0,1040.7 H176.5 M865.0,1040.7 H845.5 M157.0,985.5 H166.5 M865.0,985.5 H855.5 M157.0,930.4 H176.5 M865.0,930.4 H845.5 M157.0,875.2 H166.5 M865.0,875.2 H855.5 M157.0,820.1 H176.5 M865.0,820.1 H845.5 M157.0,765.0 H166.5 M865.0,765.0 H855.5 M166.8,1151.0 V1131.5 M269.6,1151.0 V1141.5 M372.3,1151.0 V1131.5 M475.1,1151.0 V1141.5 M577.8,1151.0 V1131.5 M680.5,1151.0 V1141.5 M783.3,1151.0 V1131.5" fill="none" stroke="#000" stroke-width="3.0"/>
<text transform="matrix(1 0 0 1.050 0 -3.66)" x="156.6" y="73.2" font-size="38" text-anchor="middle">0.0</text>
<text transform="matrix(1 0 0 1.050 0 -3.66)" x="291.6" y="73.2" font-size="38" text-anchor="middle">0.2</text>
<text transform="matrix(1 0 0 1.050 0 -3.66)" x="426.6" y="73.2" font-size="38" text-anchor="middle">0.4</text>
<text transform="matrix(1 0 0 1.050 0 -3.66)" x="561.6" y="73.2" font-size="38" text-anchor="middle">0.6</text>
<text transform="matrix(1 0 0 1.050 0 -3.66)" x="696.6" y="73.2" font-size="38" text-anchor="middle">0.8</text>
<text transform="matrix(1 0 0 1.050 0 -3.66)" x="831.6" y="73.2" font-size="38" text-anchor="middle">1.0</text>
<text transform="matrix(1 0 0 1.050 0 -8.24)" x="135.5" y="164.7" font-size="38" text-anchor="end">40</text>
<text transform="matrix(1 0 0 1.050 0 -13.66)" x="135.5" y="273.1" font-size="38" text-anchor="end">20</text>
<text transform="matrix(1 0 0 1.050 0 -19.08)" x="135.5" y="381.5" font-size="38" text-anchor="end">0</text>
<text transform="matrix(1 0 0 1.050 0 -24.50)" x="135.5" y="489.9" font-size="38" text-anchor="end">-20</text>
<text transform="matrix(1 0 0 1.050 0 -29.92)" x="135.5" y="598.3" font-size="38" text-anchor="end">-40</text>
<text transform="matrix(1 0 0 1.050 0 -36.12)" x="135.5" y="722.3" font-size="38" text-anchor="end">80</text>
<text transform="matrix(1 0 0 1.050 0 -41.63)" x="135.5" y="832.6" font-size="38" text-anchor="end">60</text>
<text transform="matrix(1 0 0 1.050 0 -47.15)" x="135.5" y="942.9" font-size="38" text-anchor="end">40</text>
<text transform="matrix(1 0 0 1.050 0 -52.66)" x="135.5" y="1053.2" font-size="38" text-anchor="end">20</text>
<text transform="matrix(1 0 0 1.050 0 -58.18)" x="135.5" y="1163.5" font-size="38" text-anchor="end">0</text>
<text transform="matrix(1 0 0 1.050 0 -59.98)" x="166.8" y="1199.6" font-size="38" text-anchor="middle">0</text>
<text transform="matrix(1 0 0 1.050 0 -59.98)" x="372.3" y="1199.6" font-size="38" text-anchor="middle">1000</text>
<text transform="matrix(1 0 0 1.050 0 -59.98)" x="577.8" y="1199.6" font-size="38" text-anchor="middle">2000</text>
<text transform="matrix(1 0 0 1.050 0 -59.98)" x="783.3" y="1199.6" font-size="38" text-anchor="middle">3000</text>
<text transform="matrix(1 0 0 1.050 0 -1.65)" x="460.0" y="33.0" font-size="44.0" font-style="italic" fill="#000">E</text>
<text transform="matrix(1 0 0 1.050 0 -1.65)" x="500.5" y="33.0" font-size="44.0" fill="#000">[V]</text>
<g transform="translate(48,423.5) rotate(-90) scale(1,1.050)">
<text x="-0.5" y="0.0" font-size="45.0" font-style="italic" fill="#000">i</text>
<text x="24.3" y="0.0" font-size="45.0" fill="#000">[</text>
<text x="38.7" y="0.0" font-size="45.0" fill="#000">mA</text>
<text x="118.6" y="0.0" font-size="45.0" fill="#000">cm</text>
<text x="175.0" y="-19.2" font-size="29.0" fill="#000">-2</text>
<text x="200.6" y="0.0" font-size="45.0" fill="#000">]</text>
</g>
<g transform="translate(44,1068.0) rotate(-90) scale(1,1.050)">
<text x="1.5" y="0.0" font-size="45.0" font-style="italic" fill="#000">ECSA</text>
<text x="123.4" y="0.0" font-size="44.0" fill="#000">[</text>
<text x="138.1" y="0.0" font-size="44.0" fill="#000">m</text>
<text x="173.3" y="-20.6" font-size="29.0" fill="#000">2</text>
<text x="174.6" y="11.0" font-size="29.0" fill="#000">Pt</text>
<text x="211.1" y="0.0" font-size="44.0" fill="#000">g</text>
<text x="234.2" y="-20.8" font-size="29.0" fill="#000">-1</text>
<text x="235.2" y="11.0" font-size="29.0" fill="#000">Pt</text>
<text x="260.9" y="0.0" font-size="44.0" fill="#000">]</text>
</g>
<text transform="matrix(1 0 0 1.050 0 -63.11)" x="460.3" y="1262.2" font-size="44.0" fill="#000">#</text>
<text transform="matrix(1 0 0 1.050 0 -63.82)" x="482.4" y="1276.3" font-size="30.5" fill="#000">SUSD</text>
<text transform="matrix(1 0 0 1.050 0 -8.37)" x="792.5" y="167.4" font-size="60.0" font-weight="bold">a)</text>
<text transform="matrix(1 0 0 1.050 0 -38.93)" x="795.0" y="778.6" font-size="60.0" font-weight="bold">b)</text>
<path d="M153.9,773.6 L167.3,760.2 L180.7,773.6 L167.3,787.0 Z" fill="#000000"/>
<path d="M167.3,756.5 V790.8 M156.7,756.5 H177.9 M156.7,790.8 H177.9" stroke="#000000" stroke-width="2.5" fill="none"/>
<path d="M174.0,824.3 L187.4,810.9 L200.8,824.3 L187.4,837.7 Z" fill="#6a00dc"/>
<path d="M187.4,807.3 V841.3 M176.8,807.3 H198.0 M176.8,841.3 H198.0" stroke="#6a00dc" stroke-width="2.5" fill="none"/>
<path d="M194.5,870.6 L207.9,857.2 L221.3,870.6 L207.9,884.0 Z" fill="#0aa0f5"/>
<path d="M207.9,856.4 V884.8 M197.3,856.4 H218.5 M197.3,884.8 H218.5" stroke="#0aa0f5" stroke-width="2.5" fill="none"/>
<path d="M235.6,925.4 L249.0,912.0 L262.4,925.4 L249.0,938.8 Z" fill="#14cd96"/>
<path d="M249.0,918.3 V932.6 M238.4,918.3 H259.6 M238.4,932.6 H259.6" stroke="#14cd96" stroke-width="2.5" fill="none"/>
<path d="M317.8,971.2 L331.2,957.8 L344.6,971.2 L331.2,984.6 Z" fill="#96e11e"/>
<path d="M331.2,961.9 V980.5 M320.6,961.9 H341.8 M320.6,980.5 H341.8" stroke="#96e11e" stroke-width="2.5" fill="none"/>
<path d="M482.2,1023.2 L495.6,1009.8 L509.0,1023.2 L495.6,1036.6 Z" fill="#e1aa1e"/>
<path d="M811.0,1063.0 L824.4,1049.6 L837.8,1063.0 L824.4,1076.4 Z" fill="#f03232"/>
<rect x="552.5" y="561.2" width="184.3" height="391.3" fill="#000"/>
<rect x="538" y="546" width="183" height="390.8" fill="#fefefe" stroke="#111" stroke-width="3"/>
<text transform="matrix(1 0 0 1.050 0 -29.33)" x="590.5" y="586.5" font-size="39.0" font-weight="bold">SUSD</text>
<path d="M543.5,622.0 H630" stroke="#000000" stroke-width="3.9" stroke-linecap="round"/>
<text transform="matrix(1 0 0 1.050 0 -31.71)" x="641.0" y="634.1" font-size="38.0">BoT</text>
<path d="M543.5,670.1 H630" stroke="#6414d8" stroke-width="3.9" stroke-linecap="round"/>
<text transform="matrix(1 0 0 1.050 0 -34.11)" x="641.0" y="682.2" font-size="38.0">100</text>
<path d="M543.5,718.3 H630" stroke="#1e96ee" stroke-width="3.9" stroke-linecap="round"/>
<text transform="matrix(1 0 0 1.050 0 -36.52)" x="641.0" y="730.4" font-size="38.0">200</text>
<path d="M543.5,766.4 H630" stroke="#1ccf8c" stroke-width="3.9" stroke-linecap="round"/>
<text transform="matrix(1 0 0 1.050 0 -38.93)" x="641.0" y="778.5" font-size="38.0">400</text>
<path d="M543.5,814.5 H630" stroke="#9ee03c" stroke-width="3.9" stroke-linecap="round"/>
<text transform="matrix(1 0 0 1.050 0 -41.33)" x="641.0" y="826.6" font-size="38.0">800</text>
<path d="M543.5,862.6 H630" stroke="#e0aa38" stroke-width="3.9" stroke-linecap="round"/>
<text transform="matrix(1 0 0 1.050 0 -43.74)" x="641.0" y="874.8" font-size="38.0">1600</text>
<path d="M543.5,910.8 H630" stroke="#ee3434" stroke-width="3.9" stroke-linecap="round"/>
<text transform="matrix(1 0 0 1.050 0 -46.15)" x="641.0" y="922.9" font-size="38.0">3200</text>
</svg></body></html>
